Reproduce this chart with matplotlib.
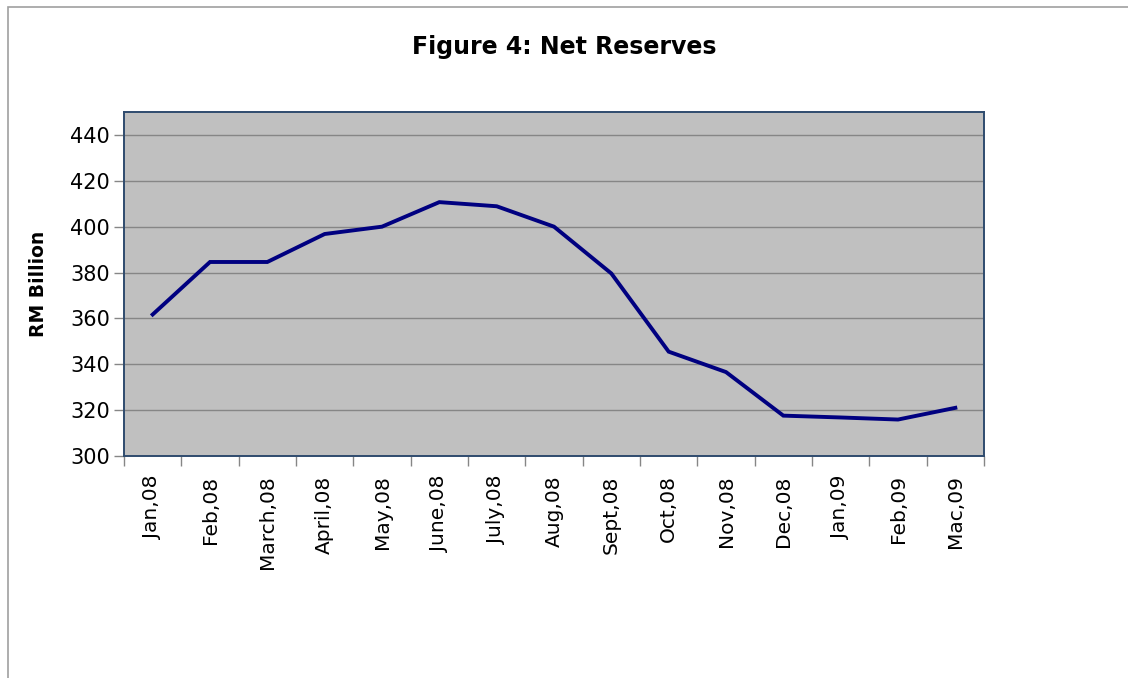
import numpy as np
import matplotlib
matplotlib.use("Agg")
import matplotlib.pyplot as plt
from matplotlib.patches import Rectangle

# Net reserves, RM billion
months = ["Jan,08", "Feb,08", "March,08", "April,08", "May,08", "June,08", "July,08",
          "Aug,08", "Sept,08", "Oct,08", "Nov,08", "Dec,08", "Jan,09", "Feb,09", "Mac,09"]
reserves = [361.7, 384.6, 384.6, 396.8, 400.0, 410.7, 408.9, 400.0, 379.6, 345.5,
            336.6, 317.6, 316.8, 315.9, 321.0]
yticks = [300, 320, 340, 360, 380, 400, 420, 440]

NAVY, FRAME, GRID, FACE = "#000080", "#2f4b6e", "#868686", "#c0c0c0"

fig = plt.figure(figsize=(11.28, 6.78), dpi=100)
fig.patch.set_facecolor("white")
# outer chart-area border (cut off at right/bottom in the reference)
fig.patches.append(Rectangle((8 / 1128, -0.05), 1.2, 1 - 7 / 678 + 0.05,
                             transform=fig.transFigure, fill=False,
                             edgecolor="#a0a0a0", lw=1.2))

ax = fig.add_axes([124 / 1128, 1 - 456 / 678, 860 / 1128, 344 / 678])
ax.set_facecolor(FACE)
x = np.arange(len(months))
ax.plot(x, reserves, color=NAVY, lw=2.8, solid_joinstyle="miter", zorder=3)

ax.set_xlim(-0.5, len(months) - 0.5)
ax.set_ylim(300, 450)
ax.set_yticks(yticks)
ax.grid(axis="y", color=GRID, lw=1.0)
ax.set_axisbelow(True)

# category labels centred, tick marks on the category boundaries
ax.set_xticks(x)
ax.set_xticklabels(months, rotation=90, fontsize=14.5)
ax.tick_params(axis="x", length=0, pad=14)
ax.set_xticks(np.arange(-0.5, len(months)), minor=True)
ax.tick_params(axis="x", which="minor", length=7, color=GRID, width=1)
ax.tick_params(axis="y", labelsize=15, length=7, color=GRID, width=1, pad=3)

for s in ax.spines.values():
    s.set_color(FRAME); s.set_linewidth(1.4)

ax.set_ylabel("RM Billion", fontsize=13.5, fontweight="bold", labelpad=16)
fig.text(0.5, 1 - 47 / 678, "Figure 4: Net Reserves", ha="center", va="center",
         fontsize=17, fontweight="bold")

fig.savefig("out.png", dpi=100)
